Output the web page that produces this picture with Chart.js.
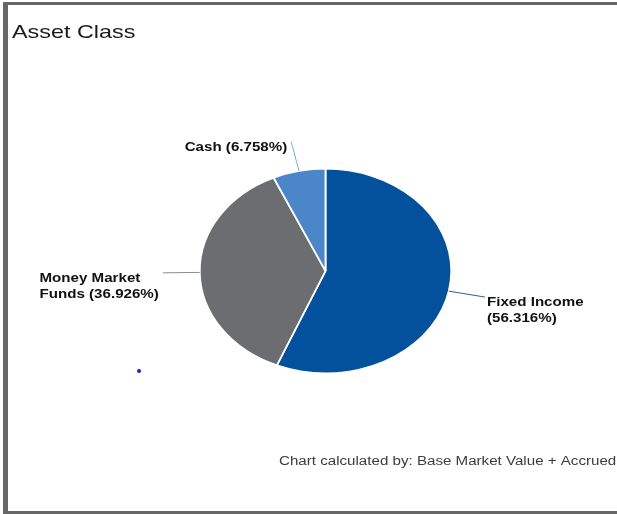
<!DOCTYPE html>
<html>
<head>
<meta charset="utf-8">
<title>Asset Class</title>
<script src="https://cdn.jsdelivr.net/npm/chart.js@4.4.1/dist/chart.umd.min.js"></script>
<style>
    html, body { margin: 0; padding: 0; background: #fff; }
    #wrap { position: relative; width: 617px; height: 514px; overflow: hidden; }
    #assetChart { position: absolute; left: 0; top: 0; }
    .edge { position: absolute; background: #676767; }
    .edge.top { left: 3px; top: 2px; width: 614px; height: 3px; }
    .edge.left { left: 3px; top: 2px; width: 5px; height: 512px; }
    .edge.bottom { left: 3px; top: 511px; width: 614px; height: 3px; }
    .dot { position: absolute; left: 137px; top: 369px; width: 4px; height: 4px; border-radius: 2px; background: #1f1fd0; }
</style>
</head>
<body>
<div id="wrap">
    <canvas id="assetChart" width="617" height="514"></canvas>
    <div class="edge top"></div>
    <div class="edge left"></div>
    <div class="edge bottom"></div>
    <div class="dot"></div>
</div>
<script>
// ===== DATA =====
const categories = ['Fixed Income', 'Money Market Funds', 'Cash'];
const shares = [56.316, 36.926, 6.758];
const sliceColors = ['#03519c', '#6c6d70', '#4b87c8'];
const leaderColors = ['#335f8c', '#8a8b8e', '#86a9cf'];
const chartTitle = 'Asset Class';
const footNote = 'Chart calculated by: Base Market Value + Accrued';

// the reference picture is stretched sideways, pie and text alike
const SX = 1.23;
const LEADER = 30;
const LABEL_FONT = 'bold 12.3px "Liberation Sans", Arial, sans-serif';

function stretchText(ctx, txt, x, y) {
    ctx.save();
    ctx.translate(x, y);
    ctx.scale(SX, 1);
    ctx.textAlign = 'left';
    ctx.fillText(txt, 0, 0);
    ctx.restore();
}

function wrapLabel(ctx, txt, maxW) {
    const words = txt.split(' ');
    const lines = [];
    let cur = '';
    words.forEach(w => {
        const test = cur ? cur + ' ' + w : w;
        if (cur && ctx.measureText(test).width * SX > maxW) { lines.push(cur); cur = w; }
        else cur = test;
    });
    lines.push(cur);
    return lines;
}

// ===== PLUGINS =====
const stretchPie = {
    id: 'stretchPie',
    beforeDatasetsDraw(chart) {
        const arc = chart.getDatasetMeta(0).data[0];
        const ctx = chart.ctx;
        ctx.save();
        ctx.translate(arc.x, arc.y);
        ctx.scale(SX, 1);
        ctx.translate(-arc.x, -arc.y);
    },
    afterDatasetsDraw(chart) { chart.ctx.restore(); }
};

const outsideLabels = {
    id: 'outsideLabels',
    afterDraw(chart) {
        const ctx = chart.ctx;
        ctx.save();
        ctx.textBaseline = 'alphabetic';

        // title + footnote
        ctx.fillStyle = '#1a1a1a';
        ctx.font = '19px "Liberation Sans", Arial, sans-serif';
        stretchText(ctx, chartTitle, 12, 38);
        ctx.fillStyle = '#3c3c3c';
        ctx.font = '12.3px "Liberation Sans", Arial, sans-serif';
        stretchText(ctx, footNote, 279, 465);

        // slice labels with leader lines (leader measured before the stretch)
        ctx.font = LABEL_FONT;
        chart.getDatasetMeta(0).data.forEach((arc, i) => {
            const p = arc.getProps(['x', 'y', 'startAngle', 'endAngle', 'outerRadius'], true);
            const mid = (p.startAngle + p.endAngle) / 2;
            const dx = Math.cos(mid) * SX, dy = Math.sin(mid);
            const ex = p.x + dx * p.outerRadius, ey = p.y + dy * p.outerRadius;
            const tx = ex + dx * LEADER, ty = ey + dy * LEADER;

            ctx.beginPath();
            ctx.moveTo(ex, ey);
            ctx.lineTo(tx, ty);
            ctx.strokeStyle = leaderColors[i];
            ctx.lineWidth = 1;
            ctx.stroke();

            const lines = wrapLabel(ctx, `${categories[i]} (${shares[i].toFixed(3)}%)`, 125);
            const widest = Math.max(...lines.map(l => ctx.measureText(l).width * SX));
            const lx = tx > p.x ? tx + 2 : tx - 4 - widest;
            ctx.fillStyle = '#111';
            lines.forEach((l, k) => stretchText(ctx, l, lx, ty + 9 + k * 16));
        });
        ctx.restore();
    }
};

// ===== CHART =====
new Chart(document.getElementById('assetChart'), {
    type: 'pie',
    data: {
        labels: categories,
        datasets: [{
            data: shares,
            backgroundColor: sliceColors,
            borderColor: '#ffffff',
            borderWidth: 1.5,
            hoverOffset: 0
        }]
    },
    options: {
        responsive: false,
        animation: false,
        layout: { padding: { top: 168, bottom: 140, left: 199, right: 165 } },
        plugins: { legend: { display: false }, tooltip: { enabled: false } }
    },
    plugins: [stretchPie, outsideLabels]
});
</script>
</body>
</html>
